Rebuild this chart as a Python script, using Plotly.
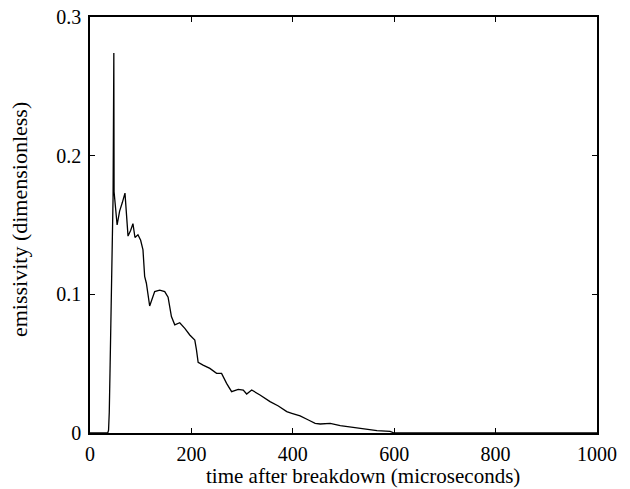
import plotly.graph_objects as go

time_us = [0, 30, 35, 36.6, 38.0, 39.5, 41.0, 42.5, 44.0, 45.5, 47.0, 47.5, 53.5, 58.4, 63.6, 69.0,
           75.0, 80.1, 84.7, 88.7, 94.6, 99.9, 104.5, 107.8, 111.2, 117.7, 127.6, 137.5,
           147.4, 154.0, 160.6, 167.2, 177.0, 187.0, 196.8, 206.7, 210.0, 213.3, 223.0,
           236.4, 249.7, 259.5, 269.4, 279.3, 292.4, 302.3, 309.0, 318.9, 335.3, 355.1,
           371.5, 388.1, 398.0, 414.4, 430.8, 444.1, 454.0, 473.8, 493.6, 520.0, 546.0,
           566.0, 592.0, 600.0, 700.0, 1000.0]
emissivity = [0, 0, 0.0, 0.002, 0.015, 0.045, 0.08, 0.11, 0.14, 0.17, 0.274, 0.174, 0.150,
              0.160, 0.166, 0.173, 0.142, 0.146, 0.151, 0.141, 0.143, 0.139, 0.132, 0.113,
              0.108, 0.0916, 0.102, 0.103, 0.102, 0.098, 0.084, 0.078, 0.0795, 0.0755,
              0.0707, 0.067, 0.060, 0.051, 0.049, 0.0466, 0.043, 0.043, 0.0358, 0.0298,
              0.0315, 0.031, 0.0281, 0.031, 0.0274, 0.0226, 0.0195, 0.0154, 0.0142, 0.0123,
              0.0094, 0.007, 0.0065, 0.007, 0.0053, 0.0038, 0.0027, 0.0017, 0.0012, 0.0, 0.0, 0.0]

x_ticks = [0, 200, 400, 600, 800, 1000]
y_ticks = [0, 0.1, 0.2, 0.3]
y_tick_text = ["0", "0.1", "0.2", "0.3"]

x_title = "time after breakdown (microseconds)"
y_title = "emissivity (dimensionless)"

font = dict(family="Liberation Serif, Times New Roman, serif", color="black")

fig = go.Figure()
fig.add_trace(go.Scatter(x=time_us, y=emissivity, mode="lines",
                         line=dict(color="black", width=1.3), showlegend=False))

axis_common = dict(showgrid=False, zeroline=False, showline=True, linecolor="black",
                   linewidth=1.5, mirror="ticks", ticks="inside", ticklen=5,
                   tickcolor="black", tickwidth=1.2, automargin=False,
                   tickfont=dict(size=20, **font))

fig.update_layout(
    width=630, height=489,
    margin=dict(l=90, r=33, t=17, b=56, autoexpand=False),
    paper_bgcolor="white", plot_bgcolor="white",
    xaxis=dict(range=[0, 1000], tickvals=x_ticks, ticktext=[str(v) for v in x_ticks],
               ticklabelstandoff=2, **axis_common),
    yaxis=dict(range=[0, 0.3], tickvals=y_ticks, ticktext=y_tick_text,
               ticklabelstandoff=3, **axis_common),
    annotations=[
        dict(text=x_title, xref="paper", yref="paper", x=0.538, y=-0.104,
             xanchor="center", yanchor="middle", showarrow=False,
             font=dict(size=21, **font)),
        dict(text=y_title, xref="paper", yref="paper", x=-0.14, y=0.512,
             xanchor="center", yanchor="middle", showarrow=False, textangle=-90,
             font=dict(size=22, **font)),
    ],
)

fig.write_html("out.html", config={"displayModeBar": False},
               post_script="document.body.style.margin='0';")
